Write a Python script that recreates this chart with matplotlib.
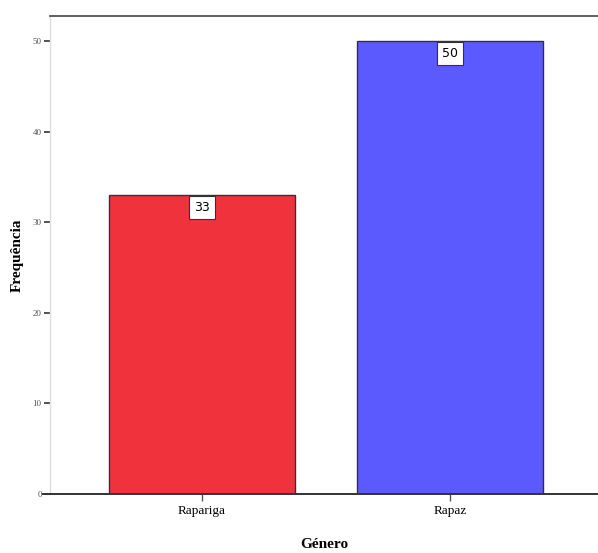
import matplotlib
matplotlib.use("Agg")
import matplotlib.pyplot as plt

categories = ["Rapariga", "Rapaz"]
values = [33, 50]
colors = ["#F0323C", "#5A5AFF"]
yticks = [0, 10, 20, 30, 40, 50]

fig = plt.figure(figsize=(5.98, 5.53), dpi=100)
ax = fig.add_axes([50/598, 59/553, 548/598, 478/553])

x = list(range(len(categories)))
ax.bar(x, values, width=0.75, color=colors, edgecolor="#333333", linewidth=1.0, zorder=2)

for xi, v in zip(x, values):
    ax.annotate(str(v), (xi, v), xytext=(0, -4.0), textcoords="offset points",
                ha="center", va="top", fontsize=9, family="DejaVu Sans",
                bbox=dict(boxstyle="square,pad=0.4", fc="white", ec="#333333", lw=0.8),
                zorder=3)

ax.set_xlim(-0.613, 1.597)
ax.set_ylim(0, 52.8)
ax.set_yticks(yticks)
ax.set_yticklabels([str(t) for t in yticks], fontsize=6.5, color="#555555", family="Liberation Serif")
ax.set_xticks(x)
ax.set_xticklabels(categories, fontsize=9.5, family="Liberation Serif")

ax.spines["right"].set_visible(False)
ax.spines["left"].set_color("#DDDDDD")
ax.spines["left"].set_linewidth(1.0)
ax.spines["top"].set_color("#444444")
ax.spines["top"].set_linewidth(1.2)
ax.spines["bottom"].set_color("#333333")
ax.spines["bottom"].set_linewidth(1.4)
ax.spines["bottom"].set_bounds(-0.64, 1.597)
ax.spines["bottom"].set_clip_on(False)

ax.tick_params(axis="y", length=4, width=1.2, color="#333333", pad=2)
ax.tick_params(axis="x", length=5, width=1.0, color="#555555", pad=3)

ax.set_ylabel("Frequência", fontsize=11, fontweight="bold", family="Liberation Serif", va="center")
ax.yaxis.set_label_coords(-33/548, 0.5)
ax.set_xlabel("Género", fontsize=11, fontweight="bold", family="Liberation Serif", va="center")
ax.xaxis.set_label_coords(0.5, -51/478)

fig.savefig("out.png", dpi=100)
